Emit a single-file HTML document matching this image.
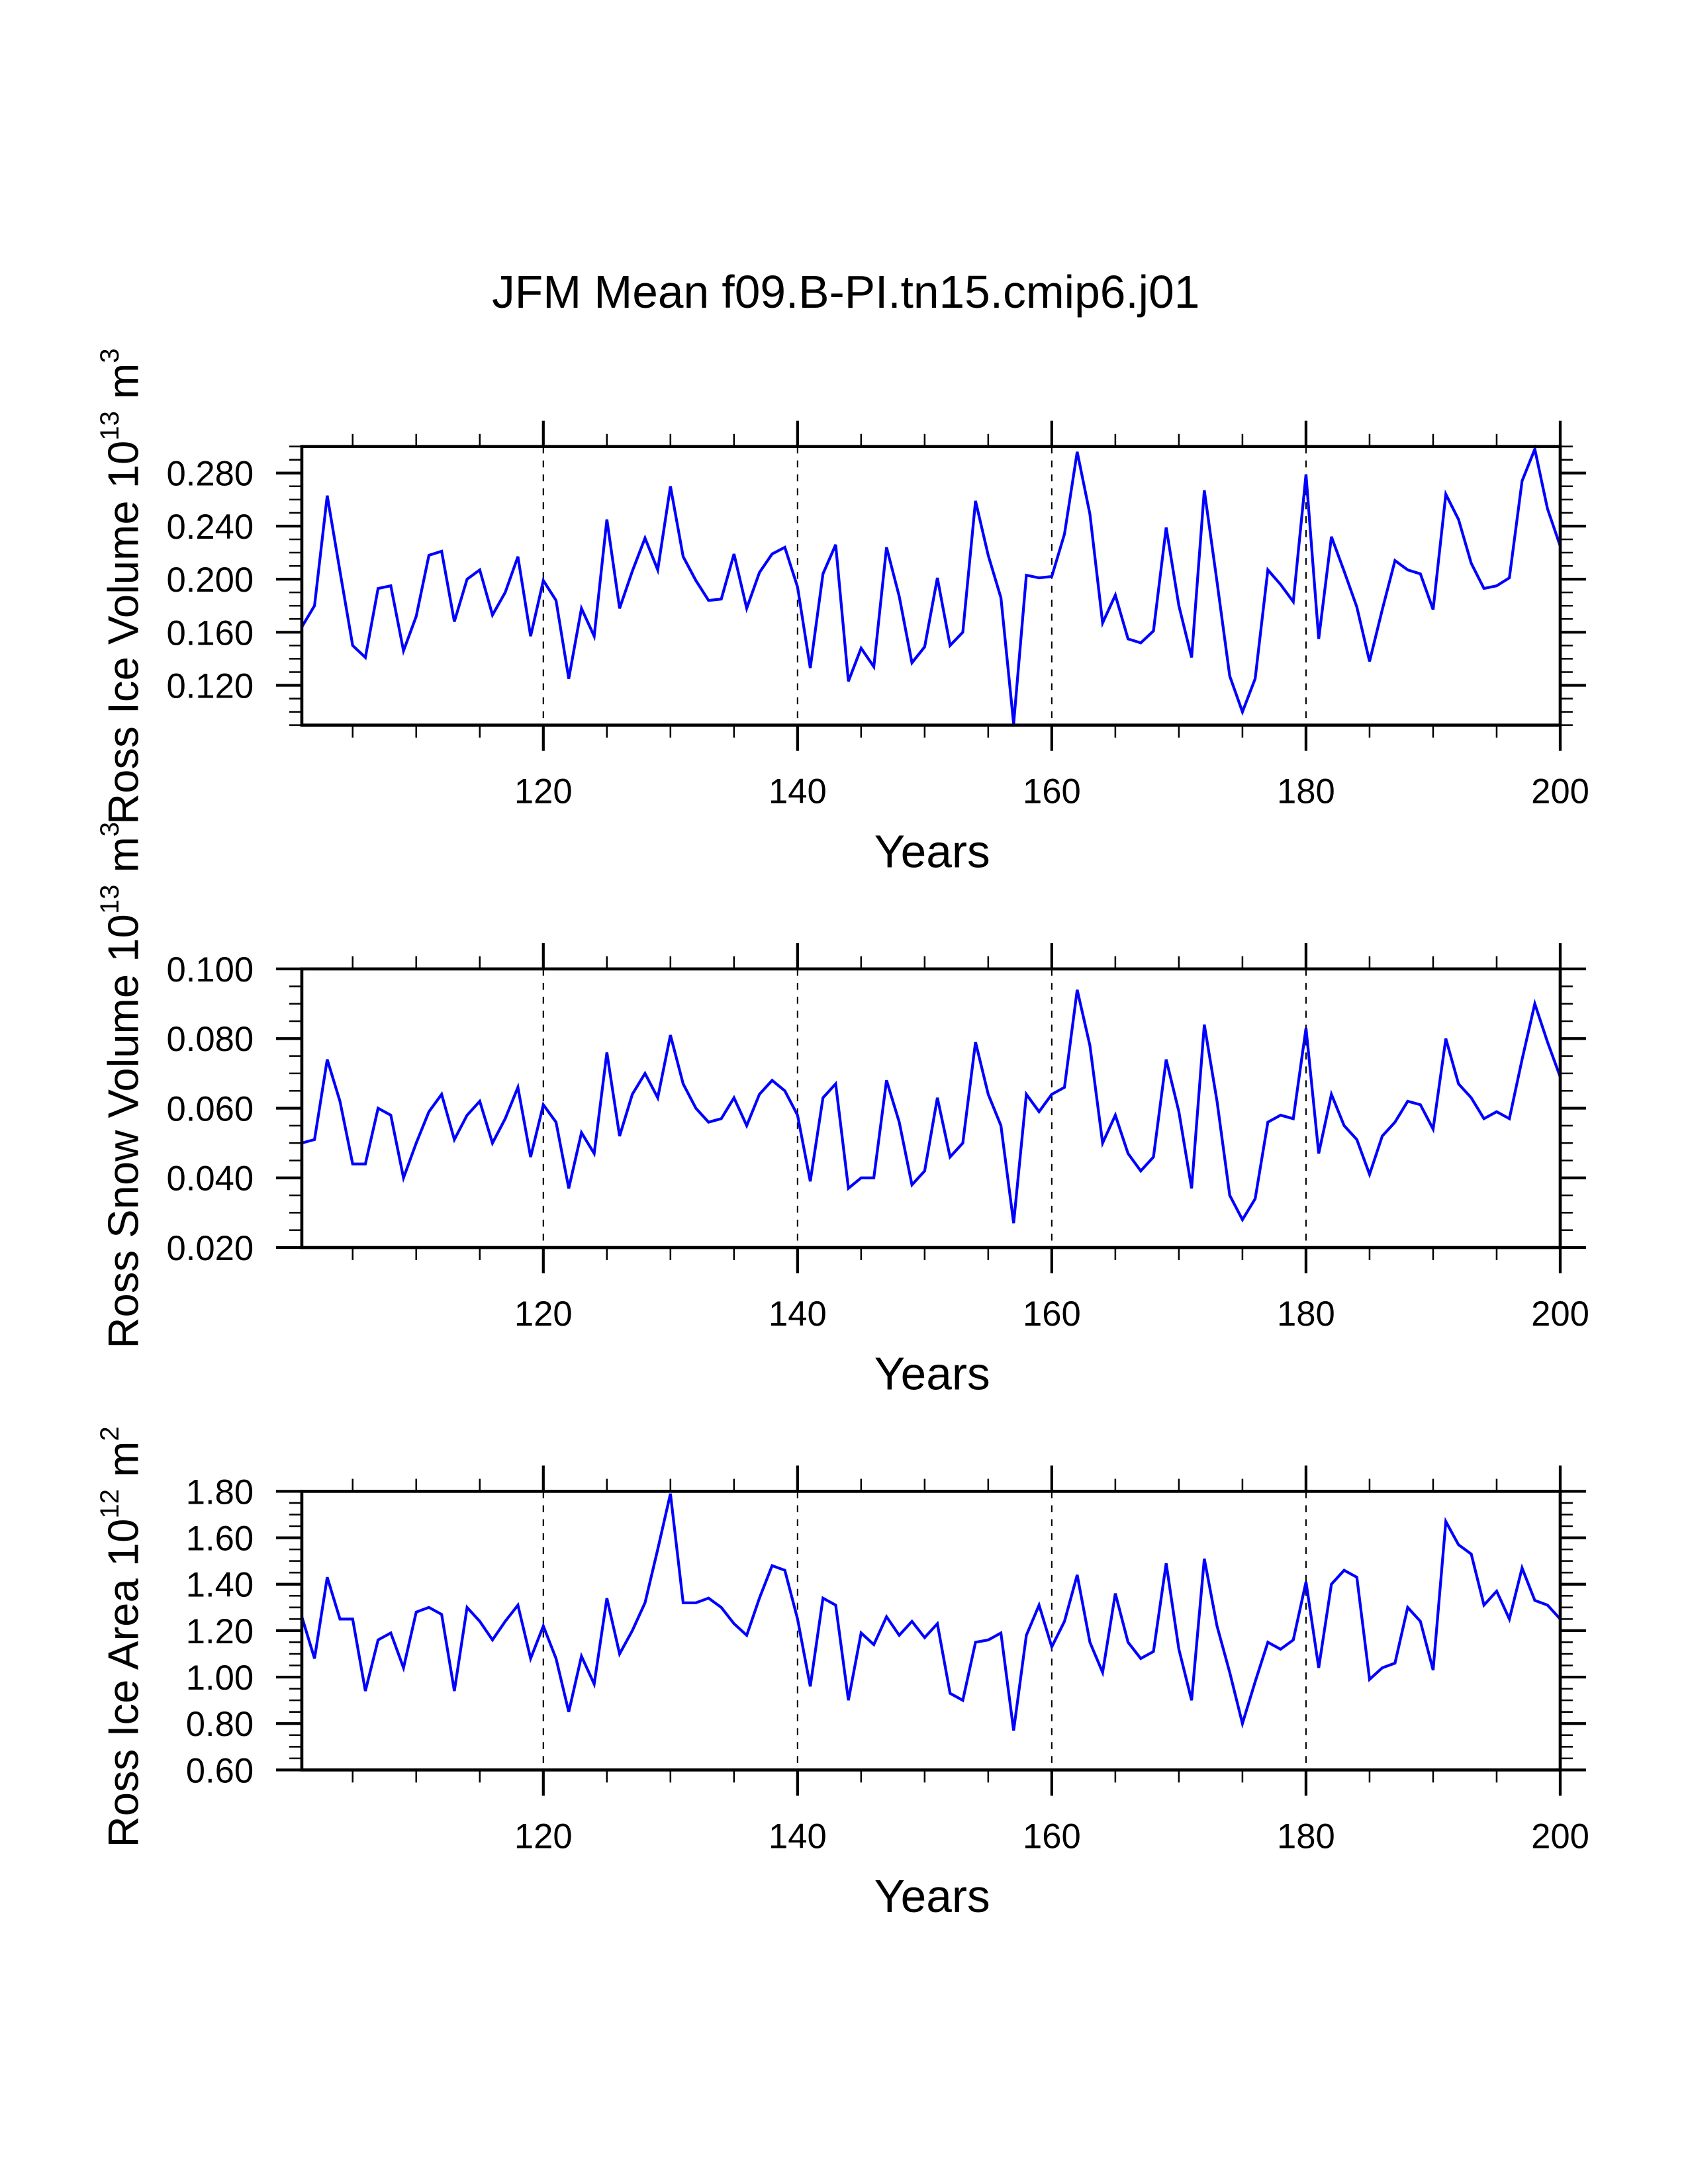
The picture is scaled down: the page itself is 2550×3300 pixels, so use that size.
<!DOCTYPE html>
<html><head><meta charset="utf-8"><title>JFM Mean f09.B-PI.tn15.cmip6.j01</title>
<style>html,body{margin:0;padding:0;background:#fff}svg{display:block}text{font-family:"Liberation Sans",sans-serif;fill:#000}</style>
</head><body>
<svg id="chart" xmlns="http://www.w3.org/2000/svg" width="2550" height="3300" viewBox="0 0 1211.4 1567.7">
<rect x="0" y="0" width="1211.4" height="1567.7" fill="#fff"/>
<text x="607" y="221" font-size="33" text-anchor="middle">JFM Mean f09.B-PI.tn15.cmip6.j01</text>
</svg>
<script>
const years = [];
for (let y = 101; y <= 200; y++) years.push(y);
const iceVolume = [0.164,0.180,0.263,0.206,0.150,0.141,0.193,0.195,0.146,0.172,0.218,0.221,0.168,0.200,0.207,0.173,0.190,0.217,0.157,0.199,0.184,0.125,0.178,0.157,0.245,0.178,0.206,0.231,0.207,0.270,0.217,0.199,0.184,0.185,0.219,0.178,0.205,0.219,0.224,0.194,0.133,0.204,0.226,0.123,0.148,0.134,0.224,0.187,0.137,0.149,0.201,0.150,0.160,0.259,0.218,0.186,0.091,0.203,0.201,0.202,0.234,0.296,0.249,0.167,0.188,0.155,0.152,0.161,0.239,0.180,0.141,0.267,0.198,0.127,0.100,0.125,0.207,0.196,0.183,0.279,0.155,0.232,0.206,0.179,0.138,0.177,0.214,0.207,0.204,0.177,0.264,0.245,0.212,0.193,0.195,0.201,0.274,0.298,0.253,0.225];
const snowVolume = [0.050,0.051,0.074,0.062,0.044,0.044,0.060,0.058,0.040,0.050,0.059,0.064,0.051,0.058,0.062,0.050,0.057,0.066,0.046,0.061,0.056,0.037,0.053,0.047,0.076,0.052,0.064,0.070,0.063,0.081,0.067,0.060,0.056,0.057,0.063,0.055,0.064,0.068,0.065,0.058,0.039,0.063,0.067,0.037,0.040,0.040,0.068,0.056,0.038,0.042,0.063,0.046,0.050,0.079,0.064,0.055,0.027,0.064,0.059,0.064,0.066,0.094,0.078,0.050,0.058,0.047,0.042,0.046,0.074,0.059,0.037,0.084,0.062,0.035,0.028,0.034,0.056,0.058,0.057,0.083,0.047,0.064,0.055,0.051,0.041,0.052,0.056,0.062,0.061,0.054,0.080,0.067,0.063,0.057,0.059,0.057,0.074,0.090,0.079,0.069];
const iceArea = [1.26,1.08,1.43,1.25,1.25,0.94,1.16,1.19,1.04,1.28,1.30,1.27,0.94,1.30,1.24,1.16,1.24,1.31,1.08,1.22,1.08,0.85,1.09,0.97,1.34,1.10,1.20,1.32,1.55,1.79,1.32,1.32,1.34,1.30,1.23,1.18,1.34,1.48,1.46,1.25,0.96,1.34,1.31,0.90,1.19,1.14,1.26,1.18,1.24,1.17,1.23,0.93,0.90,1.15,1.16,1.19,0.77,1.18,1.31,1.13,1.24,1.44,1.15,1.02,1.36,1.15,1.08,1.11,1.49,1.12,0.90,1.51,1.22,1.02,0.80,0.98,1.15,1.12,1.16,1.41,1.04,1.40,1.46,1.43,0.99,1.04,1.06,1.30,1.24,1.03,1.67,1.57,1.53,1.31,1.37,1.25,1.47,1.33,1.31,1.25];
const xTicks = [120,140,160,180,200];
const gridYears = [120,140,160,180];
const iceVolTicks = ["0.120","0.160","0.200","0.240","0.280"];
const snowVolTicks = ["0.020","0.040","0.060","0.080","0.100"];
const iceAreaTicks = ["0.60","0.80","1.00","1.20","1.40","1.60","1.80"];

const NS = "http://www.w3.org/2000/svg";
const svg = document.getElementById('chart');
const X0 = 216.6, X1 = 1119.7, H = 200;
function xScale(yr){ return X0 + (yr - 101) * (X1 - X0) / 99; }
function mk(tag, attrs, parent){ const e = document.createElementNS(NS, tag); for (const k in attrs) e.setAttribute(k, attrs[k]); (parent||svg).appendChild(e); return e; }

function panel(cfg){
  const g = mk('g', {});
  
  
  const top = cfg.top, bot = top + H;
  const yScale = v => bot - (v - cfg.min) / (cfg.max - cfg.min) * H;
  gridYears.forEach(yr => {
    const l = mk('line', {x1:xScale(yr), x2:xScale(yr), y1:top, y2:bot, stroke:'#000', 'stroke-width':1, 'stroke-dasharray':'5,5'}, g);
    
    
  });
  for (let yr = 105; yr < 200; yr += 5) {
    if (yr % 20 === 0) continue;
    const x = xScale(yr);
    mk('line', {x1:x, x2:x, y1:top, y2:top-9, stroke:'#000', 'stroke-width':1.2}, g);
    mk('line', {x1:x, x2:x, y1:bot, y2:bot+9, stroke:'#000', 'stroke-width':1.2}, g);
  }
  xTicks.forEach(yr => {
    const x = xScale(yr);
    mk('line', {x1:x, x2:x, y1:top, y2:top-18.5, stroke:'#000', 'stroke-width':2}, g);
    mk('line', {x1:x, x2:x, y1:bot, y2:bot+18.5, stroke:'#000', 'stroke-width':2}, g);
    const t = mk('text', {x:x, y:bot+56, 'font-size':25, 'text-anchor':'middle'}, g);
    t.textContent = yr;
    
    
  });
  const nMinor = Math.round((cfg.max - cfg.min) / cfg.minor);
  for (let i = 0; i <= nMinor; i++) {
    const y = yScale(cfg.min + i * cfg.minor);
    mk('line', {x1:X0, x2:X0-9, y1:y, y2:y, stroke:'#000', 'stroke-width':1.2}, g);
    mk('line', {x1:X1, x2:X1+9, y1:y, y2:y, stroke:'#000', 'stroke-width':1.2}, g);
  }
  cfg.ticks.forEach(lbl => {
    const y = yScale(parseFloat(lbl));
    mk('line', {x1:X0, x2:X0-18.5, y1:y, y2:y, stroke:'#000', 'stroke-width':2}, g);
    mk('line', {x1:X1, x2:X1+18.5, y1:y, y2:y, stroke:'#000', 'stroke-width':2}, g);
    const t = mk('text', {x:182, y:y+9, 'font-size':25, 'text-anchor':'end'}, g);
    t.textContent = lbl;
    
    
  });
  const pts = cfg.data.map((v,i) => xScale(years[i]).toFixed(2) + ',' + yScale(v).toFixed(2)).join(' ');
  const pl = mk('polyline', {points:pts, fill:'none', stroke:'#0000ff', 'stroke-width':2, 'stroke-linejoin':'miter'}, g);
  
  
  const r = mk('rect', {x:X0, y:top, width:X1-X0, height:H, fill:'none', stroke:'#000', 'stroke-width':2.2}, g);
  
  
  const xt = mk('text', {x:669, y:bot+102, 'font-size':33, 'text-anchor':'middle'}, g);
  xt.textContent = 'Years';
  
  
  const yt = mk('text', {x:0, y:0, 'font-size':31, 'text-anchor':'middle', transform:'translate(99,' + cfg.titleY + ') rotate(-90)'}, g);
  
  
  const a = mk('tspan', {}, yt); a.textContent = cfg.title + ' 10';
  const b = mk('tspan', {'font-size':19, dy:-14}, yt); b.textContent = cfg.exp;
  const c = mk('tspan', {dy:14}, yt); c.textContent = ' m';
  const d = mk('tspan', {'font-size':19, dy:-14}, yt); d.textContent = cfg.unitExp;
}
panel({name:'ice-volume-panel', top:320.5, min:0.09, max:0.30, minor:0.01, ticks:iceVolTicks, data:iceVolume, title:'Ross Ice Volume', exp:'13', unitExp:'3', titleY:421});
panel({name:'snow-volume-panel', top:695.5, min:0.02, max:0.10, minor:0.005, ticks:snowVolTicks, data:snowVolume, title:'Ross Snow Volume', exp:'13', unitExp:'3', titleY:779});
panel({name:'ice-area-panel', top:1070.5, min:0.60, max:1.80, minor:0.05, ticks:iceAreaTicks, data:iceArea, title:'Ross Ice Area', exp:'12', unitExp:'2', titleY:1175});
</script>
</body></html>
